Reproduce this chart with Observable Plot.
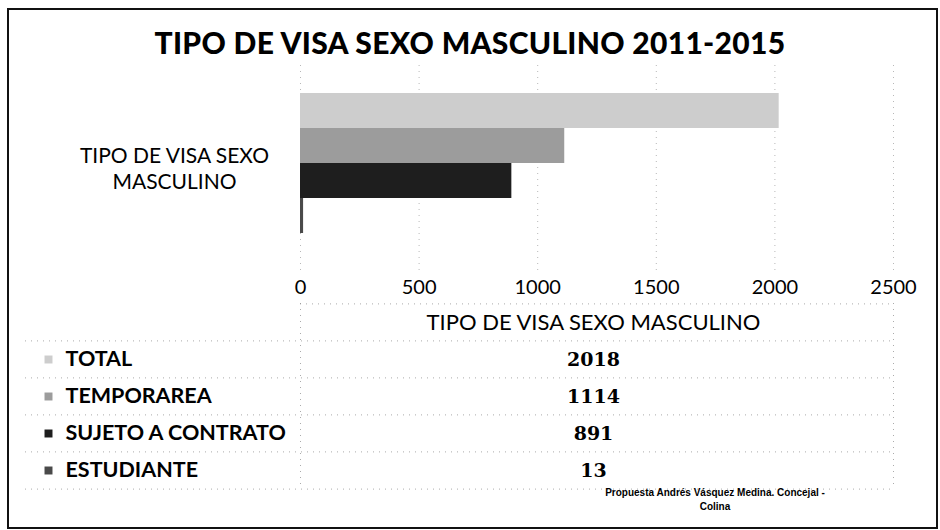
<!DOCTYPE html>
<html><head><meta charset="utf-8">
<script src="https://cdn.jsdelivr.net/npm/d3@7"></script>
<script src="https://cdn.jsdelivr.net/npm/@observablehq/plot@0.6"></script>
<style>
body{margin:0;background:#fff;}
#wrap{position:relative;width:940px;height:530px;overflow:hidden;background:#fff;font-family:Lato,"Open Sans",sans-serif;}
#border{position:absolute;left:7px;top:8px;width:931px;height:521px;border:2px solid #111;box-sizing:border-box;}
#title{position:absolute;top:23px;left:0;width:940px;text-align:center;font:900 30px Lato,sans-serif;color:#000;line-height:38px;white-space:nowrap;letter-spacing:0.3px;}
#chart{position:absolute;left:0;top:50px;}
#table{position:absolute;left:0;top:290px;}
#caption{position:absolute;left:565px;top:486px;width:300px;text-align:center;font:bold 10px "Liberation Sans",Arial,sans-serif;line-height:14px;color:#000;white-space:nowrap;}
</style>
</head><body>
<div id="wrap">
  <div id="border"></div>
  <div id="title"></div>
  <div id="chart"></div>
  <div id="table"></div>
  <div id="caption"></div>
</div>
<script>
const titleText = "TIPO DE VISA SEXO MASCULINO 2011-2015";
const category = "TIPO DE VISA SEXO MASCULINO";
const categoryLabel = "TIPO DE VISA SEXO\nMASCULINO";
const series = ["TOTAL", "TEMPORAREA", "SUJETO A CONTRATO", "ESTUDIANTE"];
const values = [2018, 1114, 891, 13];
const xTicks = [0, 500, 1000, 1500, 2000, 2500];
const captionLines = ["Propuesta Andrés Vásquez Medina. Concejal -", "Colina"];
const grays = ["#cdcdcd", "#9c9c9c", "#1e1e1e", "#4a4a4a"];

const data = series.map((s, i) => ({series: s, value: values[i]}));

document.getElementById("title").textContent = titleText;
document.getElementById("caption").innerHTML = captionLines.join("<br>");

const color = {domain: series, range: grays};

const chart = Plot.plot({
  width: 940,
  height: 260,
  marginLeft: 300,
  marginRight: 47,
  marginTop: 15,
  marginBottom: 40,
  style: {fontFamily: "Lato, sans-serif", background: "transparent", overflow: "visible"},
  x: {domain: [0, 2500], ticks: xTicks},
  y: {domain: series, range: [43, 183], paddingInner: 0, paddingOuter: 0, axis: null},
  color,
  marks: [
    Plot.gridX(xTicks, {stroke: "#888", strokeOpacity: 0.6, strokeDasharray: "1,5"}),
    Plot.barX(data, {x: "value", y: "series", fill: "series"}),
    Plot.ruleX(series, {x: 0, y: d => d, stroke: "#555", strokeDasharray: "1,2"}),
    Plot.axisX(xTicks, {anchor: "bottom", tickSize: 0, tickPadding: 9, fontSize: 20, fill: "#000", label: null, tickFormat: d => String(d)}),
    Plot.text([categoryLabel], {frameAnchor: "left", dx: -126, textAnchor: "middle", fontSize: 21, lineHeight: 1.2, fill: "#000"})
  ]
});
document.getElementById("chart").appendChild(chart);

const rows = [category, ...series];
const table = Plot.plot({
  width: 940,
  height: 210,
  marginLeft: 25,
  marginRight: 47,
  marginTop: 13,
  marginBottom: 11,
  style: {fontFamily: "Lato, sans-serif", background: "transparent", overflow: "visible"},
  x: {domain: [0, 2500], range: [300, 893], axis: null},
  y: {domain: rows, paddingInner: 0, paddingOuter: 0, axis: null},
  color,
  marks: [
    Plot.ruleY([category], {y: d => d, x1: 0, x2: 2500, dy: -18.6, stroke: "#888", strokeOpacity: 0.7, strokeDasharray: "1,5"}),
    Plot.ruleY(series, {y: d => d, dy: -18.6, stroke: "#888", strokeOpacity: 0.7, strokeDasharray: "1,5"}),
    Plot.ruleY([series[series.length - 1]], {y: d => d, dy: 18.6, stroke: "#888", strokeOpacity: 0.7, strokeDasharray: "1,5"}),
    Plot.ruleX([0, 2500], {stroke: "#888", strokeOpacity: 0.7, strokeDasharray: "1,5"}),
    Plot.text([category], {y: d => d, frameAnchor: "middle", dx: 134, fontSize: 22, fill: "#000"}),
    Plot.dot(series, {y: d => d, frameAnchor: "left", dx: 23, symbol: "square", r: 4.5, fill: d => d}),
    Plot.text(series, {y: d => d, frameAnchor: "left", dx: 40, textAnchor: "start", fontSize: 21.5, fontWeight: "bold", fill: "#000"}),
    Plot.text(data, {y: "series", text: d => String(d.value), frameAnchor: "middle", dx: 134, fontSize: 19, fontWeight: "bold", fontFamily: "DejaVu Serif", fill: "#000"})
  ]
});
document.getElementById("table").appendChild(table);
</script>
</body></html>
